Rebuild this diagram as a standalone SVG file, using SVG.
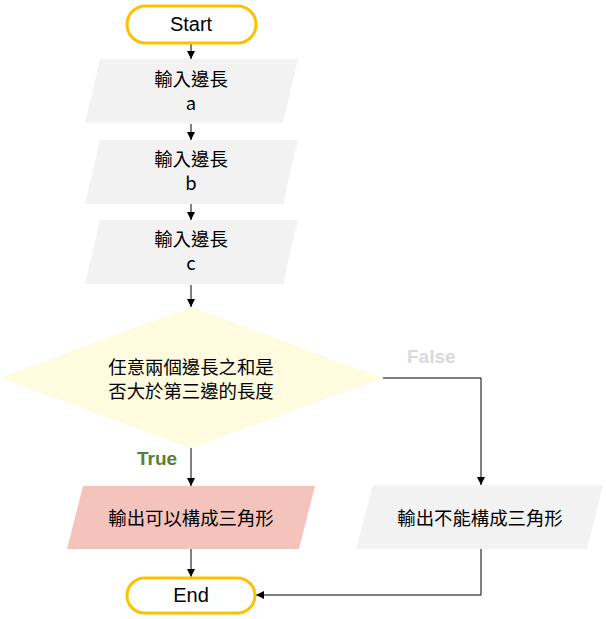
<svg xmlns="http://www.w3.org/2000/svg" width="606" height="619" viewBox="0 0 606 619">
  <defs>
    <marker id="arrow" viewBox="0 0 10 10" refX="10" refY="5" markerWidth="8" markerHeight="8" markerUnits="userSpaceOnUse" orient="auto">
      <path d="M0,0 L10,5 L0,10 z" fill="#000"/>
    </marker>
    <style>
      .term { fill: #ffffff; stroke: #FFC000; stroke-width: 3; }
      .io { fill: #F2F2F2; }
      .cond { fill: #FFFBDF; }
      .ok { fill: #F4C3BC; }
      .lbl { font-family: "Noto Sans CJK TC", "Noto Sans", sans-serif; font-size: 18.4px; fill: #000; text-anchor: middle; }
      .tlbl { font-family: "Liberation Sans", Arial, sans-serif; font-size: 20px; fill: #000; text-anchor: middle; }
      .edge { fill: none; stroke: #000; stroke-width: 1; marker-end: url(#arrow); }
      .branch { font-family: "Liberation Sans", Arial, sans-serif; font-size: 19px; font-weight: bold; }
    </style>
  </defs>
  <rect width="606" height="619" fill="#ffffff"/>

  <!-- connectors -->
  <g id="connectors">
    <path class="edge" d="M191,44 V59"/>
    <path class="edge" d="M191,124 V140"/>
    <path class="edge" d="M191,204 V220"/>
    <path class="edge" d="M191,285 V307"/>
    <path class="edge" d="M191,448 V486"/>
    <path class="edge" d="M383,378 H481 V485"/>
    <path class="edge" d="M191,549 V577"/>
    <path class="edge" d="M481,549 V595 H256"/>
    <text class="branch" x="137" y="465" fill="#548235">True</text>
    <text class="branch" x="407" y="363" fill="#D9D9D9">False</text>
  </g>

  <g id="start">
    <rect class="term" x="127" y="6" width="129" height="37" rx="18.5"/>
    <text class="tlbl" x="191" y="31">Start</text>
  </g>

  <g id="input-a">
    <polygon class="io" points="100,59 298,59 283,123 85,123"/>
    <text class="lbl" x="191" y="86">輸入邊長</text>
    <text class="lbl" x="191" y="110">a</text>
  </g>

  <g id="input-b">
    <polygon class="io" points="100,140 298,140 283,204 85,204"/>
    <text class="lbl" x="191" y="166">輸入邊長</text>
    <text class="lbl" x="191" y="190">b</text>
  </g>

  <g id="input-c">
    <polygon class="io" points="100,220 298,220 283,284 85,284"/>
    <text class="lbl" x="191" y="246">輸入邊長</text>
    <text class="lbl" x="191" y="270">c</text>
  </g>

  <g id="check">
    <polygon class="cond" points="191,307 383,378 191,448 0,378"/>
    <text class="lbl" x="191" y="374">任意兩個邊長之和是</text>
    <text class="lbl" x="191" y="398">否大於第三邊的長度</text>
  </g>

  <g id="out-yes">
    <polygon class="ok" points="83,486 315,486 299,549 67,549"/>
    <text class="lbl" x="191" y="525">輸出可以構成三角形</text>
  </g>

  <g id="out-no">
    <polygon class="io" points="373,485 603,485 587,549 356,549"/>
    <text class="lbl" x="480" y="525">輸出不能構成三角形</text>
  </g>

  <g id="end">
    <rect class="term" x="127" y="578" width="128" height="35" rx="17.5"/>
    <text class="tlbl" x="191" y="602">End</text>
  </g>
</svg>
